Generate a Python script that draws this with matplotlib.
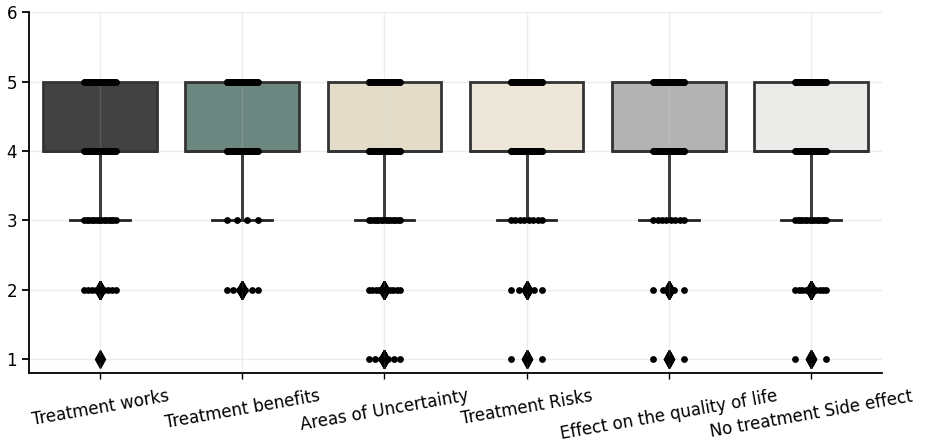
import numpy as np
import matplotlib
matplotlib.use("Agg")
import matplotlib.pyplot as plt

categories = ["Treatment works", "Treatment benefits", "Areas of Uncertainty",
              "Treatment Risks", "Effect on the quality of life", "No treatment Side effect"]
levels = [1, 2, 3, 4, 5]

# number of answers at each level 1..5
works = [1, 9, 14, 55, 50]
benefits = [0, 6, 4, 55, 60]
uncertainty = [6, 10, 14, 60, 50]
risks = [3, 5, 8, 55, 55]
quality = [3, 4, 8, 55, 55]
side_effect = [3, 10, 14, 55, 50]

counts = [works, benefits, uncertainty, risks, quality, side_effect]
colors = ["#424242", "#6b877f", "#e2dcc8", "#ece7d8", "#b3b3b3", "#ebebea"]

samples = [np.repeat(levels, c) for c in counts]

fig = plt.figure(figsize=(9.25, 4.48), dpi=100)
ax = fig.add_axes([0.0314, 0.167, 0.922, 0.806])
ax.grid(True, color="#ebebeb", linewidth=1)
ax.set_axisbelow(True)

bp = ax.boxplot(samples, positions=range(len(categories)), widths=0.8,
                patch_artist=True, whis=1.5,
                flierprops=dict(marker="d", markerfacecolor="black",
                                markeredgecolor="black", markersize=9),
                medianprops=dict(color="#333333", linewidth=2),
                whiskerprops=dict(color="#222222", linewidth=2),
                capprops=dict(color="#222222", linewidth=2),
                boxprops=dict(edgecolor="#333333", linewidth=2))
for patch, c in zip(bp["boxes"], colors):
    patch.set_facecolor(c)
for cap in bp["caps"]:
    x = cap.get_xdata()
    m = x.mean()
    cap.set_xdata([m - 0.21, m + 0.21])
for cap in bp["caps"][1::2]:
    cap.set_visible(False)

# faint vertical grid lines show through the boxes
for i in range(len(categories)):
    ax.axvline(i, color="#ffffff", alpha=0.12, linewidth=1, zorder=2.5)

# strip of individual answers, spread evenly around each category
for i, c in enumerate(counts):
    for lev, n in zip(levels, c):
        if n == 0:
            continue
        off = np.linspace(-0.11, 0.11, n) if n > 1 else np.zeros(1)
        ax.scatter(i + off, np.full(n, lev), s=24, color="black", zorder=4,
                   linewidths=0)

ax.set_xlim(-0.5, 5.5)
ax.set_ylim(0.8, 6)
ax.set_yticks([1, 2, 3, 4, 5, 6])
ax.set_xticks(range(len(categories)))
ax.set_xticklabels(categories, rotation=10, ha="center", fontsize=12)
ax.tick_params(axis="y", labelsize=12, width=1.3, length=5)
ax.tick_params(axis="x", width=1, length=4, pad=6)
for s in ["top", "right"]:
    ax.spines[s].set_visible(False)
for s in ["left", "bottom"]:
    ax.spines[s].set_linewidth(1.3)

fig.savefig("out.png", dpi=100)
